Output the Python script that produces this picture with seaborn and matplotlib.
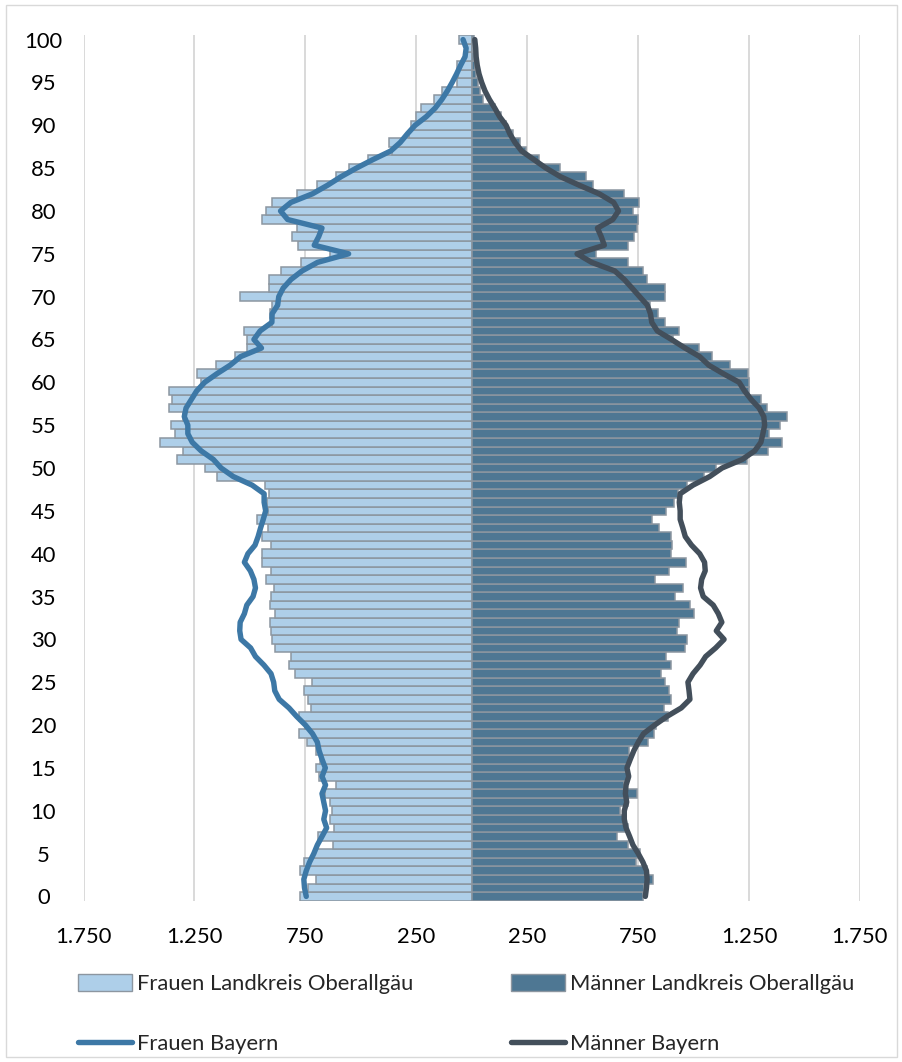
import numpy as np
import pandas as pd
import matplotlib
matplotlib.use("Agg")
import matplotlib.pyplot as plt
import seaborn as sns
from matplotlib.patches import Patch, Rectangle
from matplotlib.lines import Line2D

ages = list(range(101))

frauen_lk = [772, 740, 700, 774, 756, 712, 624, 694, 620, 641,
             631, 640, 660, 610, 688, 700, 682, 700, 743, 778,
             751, 777, 725, 740, 755, 719, 795, 822, 817, 887,
             901, 906, 908, 888, 911, 904, 890, 929, 906, 945,
             945, 906, 945, 917, 968, 917, 924, 913, 933, 1147,
             1202, 1328, 1302, 1405, 1338, 1356, 1300, 1366, 1352, 1367,
             1220, 1237, 1153, 1066, 1014, 1011, 1025, 902, 911, 901,
             1045, 912, 912, 860, 768, 638, 782, 811, 787, 945,
             928, 901, 789, 698, 611, 553, 466, 361, 373, 283,
             274, 250, 228, 171, 133, 65, 60, 68, 30, 25, 56]

maenner_lk = [772, 775, 819, 791, 740, 759, 704, 653, 704, 693,
              668, 704, 745, 686, 700, 704, 708, 710, 793, 824,
              831, 883, 867, 900, 890, 872, 852, 900, 875, 962,
              970, 924, 936, 1004, 986, 918, 954, 826, 888, 968,
              899, 901, 899, 843, 815, 877, 914, 929, 970, 1049,
              1102, 1240, 1335, 1398, 1340, 1392, 1421, 1333, 1305, 1252,
              1250, 1244, 1164, 1083, 1023, 906, 933, 870, 840, 805,
              871, 871, 791, 772, 705, 560, 703, 732, 745, 750,
              729, 756, 688, 546, 517, 397, 305, 246, 217, 185,
              153, 133, 103, 53, 37, 27, 20, 15, 10, 8, 10]

frauen_by = [746, 754, 757, 746, 731, 712, 696, 675, 654, 667,
             659, 667, 675, 659, 675, 660, 675, 688, 696, 718,
             750, 789, 824, 868, 888, 893, 905, 937, 975, 997,
             1040, 1046, 1044, 1025, 1014, 986, 975, 982, 998, 1025,
             1009, 977, 963, 952, 940, 929, 936, 936, 990, 1075,
             1130, 1165, 1220, 1260, 1280, 1280, 1296, 1288, 1264, 1240,
             1204, 1149, 1089, 1042, 948, 982, 954, 901, 900, 875,
             870, 850, 815, 765, 695, 555, 710, 690, 675, 830,
             862, 815, 718, 650, 589, 520, 445, 365, 322, 290,
             255, 205, 165, 135, 110, 88, 68, 50, 30, 25, 39]

maenner_by = [783, 788, 791, 788, 772, 751, 727, 712, 696, 688,
              688, 699, 693, 696, 708, 700, 715, 731, 751, 775,
              825, 880, 945, 984, 980, 975, 998, 1030, 1055, 1100,
              1138, 1103, 1128, 1112, 1089, 1044, 1032, 1037, 1053, 1050,
              1028, 991, 963, 952, 940, 940, 936, 940, 998, 1073,
              1129, 1220, 1276, 1304, 1313, 1321, 1317, 1296, 1260, 1230,
              1206, 1135, 1069, 1028, 962, 901, 837, 812, 806, 792,
              757, 723, 688, 645, 541, 475, 598, 584, 567, 636,
              662, 640, 575, 485, 400, 335, 280, 225, 195, 172,
              155, 126, 104, 80, 60, 45, 33, 25, 20, 18, 14]

x_ticks = [-1750, -1250, -750, -250, 250, 750, 1250, 1750]
x_tick_labels = ["1.750", "1.250", "750", "250", "250", "750", "1.250", "1.750"]
y_ticks = list(range(0, 101, 5))

series_names = ["Frauen Landkreis Oberallgäu", "Männer Landkreis Oberallgäu",
                "Frauen Bayern", "Männer Bayern"]

c_f_bar = "#AECFE9"
c_m_bar = "#4E7793"
c_edge = "#8C96A0"
c_f_line = "#3D78A6"
c_m_line = "#434F5B"

sns.set_theme(style="white")
plt.rcParams['font.family'] = ['Lato', 'DejaVu Sans']

W, H = 903, 1062
FS = 15.8
LW = 3.9
fig = plt.figure(figsize=(W / 100, H / 100), dpi=100)
ax = fig.add_axes([83.6 / W, 1 - 900.7 / H, 776.2 / W, 865.4 / H])

df = pd.DataFrame({
    "age": ages,
    "F": -np.array(frauen_lk, dtype=float),
    "M": np.array(maenner_lk, dtype=float),
    "FB": -np.array(frauen_by, dtype=float),
    "MB": np.array(maenner_by, dtype=float),
})

sns.barplot(data=df, x="F", y="age", orient="y", native_scale=True, width=1.0,
            color=c_f_bar, saturation=1, edgecolor=c_edge, linewidth=1.1,
            errorbar=None, ax=ax, zorder=2)
sns.barplot(data=df, x="M", y="age", orient="y", native_scale=True, width=1.0,
            color=c_m_bar, saturation=1, edgecolor=c_edge, linewidth=1.1,
            errorbar=None, ax=ax, zorder=2)

sns.lineplot(data=df, x="FB", y="age", orient="y", estimator=None, color=c_f_line,
             linewidth=LW, ax=ax, zorder=4, solid_joinstyle="round", solid_capstyle="round")
sns.lineplot(data=df, x="MB", y="age", orient="y", estimator=None, color=c_m_line,
             linewidth=LW, ax=ax, zorder=4, solid_joinstyle="round", solid_capstyle="round")

ax.set_xlim(-1750, 1750)
ax.set_ylim(-0.5, 100.5)
ax.set_xticks(x_ticks)
ax.set_xticklabels(x_tick_labels)
ax.set_yticks(y_ticks)
ax.set_yticklabels([str(v) for v in y_ticks])
ax.set_xlabel("")
ax.set_ylabel("")
ax.set_axisbelow(True)
ax.xaxis.grid(True, color="#D9D9D9", linewidth=1.4)
ax.yaxis.grid(False)
for s in ax.spines.values():
    s.set_visible(False)
ax.tick_params(axis="both", length=0, labelsize=FS, colors="#000000")
ax.tick_params(axis="x", pad=19)
ax.tick_params(axis="y", pad=29)
for lab in ax.get_yticklabels():
    lab.set_horizontalalignment("center")

# chart border
fig.patches.append(Rectangle((6 / W, 5 / H), (W - 12) / W, (H - 10) / H,
                             transform=fig.transFigure, fill=False,
                             edgecolor="#D9D9D9", linewidth=1.0))

h_f = Patch(facecolor=c_f_bar, edgecolor=c_edge, linewidth=1.0)
h_m = Patch(facecolor=c_m_bar, edgecolor=c_edge, linewidth=1.0)
h_fb = Line2D([], [], color=c_f_line, linewidth=LW)
h_mb = Line2D([], [], color=c_m_line, linewidth=LW)

leg_kw = dict(frameon=False, fontsize=FS, handlelength=2.45, handleheight=0.8,
              handletextpad=0.22, labelspacing=1.82, borderpad=0, borderaxespad=0,
              loc="upper left")
fig.legend([h_f, h_fb], [series_names[0], series_names[2]],
           bbox_to_anchor=(78 / W, 1 - 974 / H), **leg_kw)
fig.legend([h_m, h_mb], [series_names[1], series_names[3]],
           bbox_to_anchor=(511 / W, 1 - 974 / H), **leg_kw)

fig.savefig("out.png", dpi=100)
